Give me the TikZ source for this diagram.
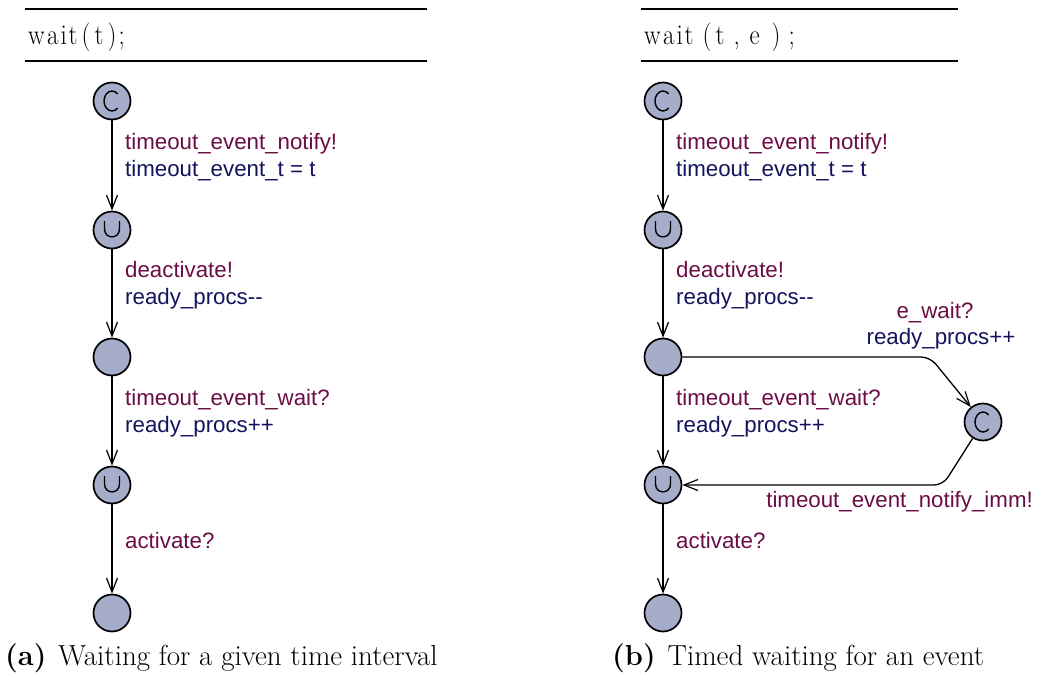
\documentclass[tikz,border=0pt]{standalone}
\usepackage{fontspec}
\newfontfamily\labfont{Liberation Sans}
\usetikzlibrary{arrows.meta}
\definecolor{locfill}{HTML}{A6ADCB}
\definecolor{synccol}{HTML}{6B0D45}
\definecolor{updcol}{HTML}{14145E}
\newcommand{\ch}[2]{\rlap{#1}\hspace{#2pt}}
\begin{document}
\begin{tikzpicture}[x=1pt,y=-1pt,
  loc/.style={circle,draw=black,line width=1.7pt,fill=locfill,minimum size=37pt,inner sep=0pt},
  edge/.style={line width=1.3pt,-{Straight Barb[length=14pt,width=11pt,line width=1.2pt]}},
  sync/.style={font=\labfont\fontsize{22.3}{26}\selectfont,text=synccol,inner sep=0pt},
  upd/.style={font=\labfont\fontsize{22.3}{26}\selectfont,text=updcol,inner sep=0pt},
  hdr/.style={font=\fontsize{25}{29}\selectfont,inner sep=0pt,anchor=base west},
  hrule/.style={line width=1.1pt},
  captext/.style={font=\fontsize{29}{33}\selectfont,inner sep=0pt,anchor=base west},
  usym/.style={line width=1.4pt}
]
\useasboundingbox (0,0) rectangle (1037,677);
% ---------- left ----------
\draw[hrule] (25,9) -- (427,9);
\draw[hrule] (25,61) -- (427,61);
\node[hdr] (hl) at (28,45) {\scalebox{1}[1.15]{\ch{w}{19}\ch{a}{13.5}\ch{i}{8}\ch{t}{13}\ch{(}{13}\ch{t}{13}\ch{)}{11}\ch{;}{7}}};
\node[loc] (l1) at (112,101) {};
\node[loc] (l2) at (112,230) {};
\node[loc] (l3) at (112,357) {};
\node[loc] (l4) at (112,485) {};
\node[loc] (l5) at (112,613) {};
\draw[usym] ([shift={(45:8 and 10)}]l1.center) arc[start angle=45,end angle=315,x radius=8,y radius=10];
\draw[usym] (104.5,221) -- (104.5,229) .. controls (104.5,239.5) and (119.5,239.5) .. (119.5,229) -- (119.5,221);
\draw[usym] (104.5,476) -- (104.5,484) .. controls (104.5,494.5) and (119.5,494.5) .. (119.5,484) -- (119.5,476);
\draw[edge] (l1) -- (l2);
\draw[edge] (l2) -- (l3);
\draw[edge] (l3) -- (l4);
\draw[edge] (l4) -- (l5);
\node[sync,anchor=base west] (la1) at (125,149) {timeout\_event\_notify!};
\node[upd,anchor=base west] (la2) at (125,176) {timeout\_event\_t = t};
\node[sync,anchor=base west] (la3) at (125,277) {deactivate!};
\node[upd,anchor=base west] (la4) at (125,304) {ready\_procs--};
\node[sync,anchor=base west] (la5) at (125,405) {timeout\_event\_wait?};
\node[upd,anchor=base west] (la6) at (125,432) {ready\_procs++};
\node[sync,anchor=base west] (la7) at (125,548) {activate?};
\node[captext] (capa) at (5,665) {\textbf{(a)}\hspace{12pt}Waiting for a given time interval};
% ---------- right ----------
\draw[hrule] (641,9) -- (958,9);
\draw[hrule] (641,61) -- (958,61);
\node[hdr] (hr) at (644,45) {\scalebox{1}[1.15]{\ch{w}{19}\ch{a}{13.5}\ch{i}{8}\ch{t}{18}\ch{(}{13}\ch{t}{18}\ch{,}{16}\ch{e}{22}\ch{)}{17}\ch{;}{7}}};
\node[loc] (r1) at (663,101) {};
\node[loc] (r2) at (663,230) {};
\node[loc] (r3) at (663,357) {};
\node[loc] (r4) at (663,485) {};
\node[loc] (r5) at (663,613) {};
\node[loc] (rc) at (983,422) {};
\draw[usym] ([shift={(45:8 and 10)}]r1.center) arc[start angle=45,end angle=315,x radius=8,y radius=10];
\draw[usym] ([shift={(45:8 and 10)}]rc.center) arc[start angle=45,end angle=315,x radius=8,y radius=10];
\draw[usym] (655.5,221) -- (655.5,229) .. controls (655.5,239.5) and (670.5,239.5) .. (670.5,229) -- (670.5,221);
\draw[usym] (655.5,476) -- (655.5,484) .. controls (655.5,494.5) and (670.5,494.5) .. (670.5,484) -- (670.5,476);
\coordinate (k1) at (930,357);
\coordinate (k2) at (943,485);
\draw[edge] (r1) -- (r2);
\draw[edge] (r2) -- (r3);
\draw[edge] (r3) -- (r4);
\draw[edge] (r4) -- (r5);
\draw[edge,rounded corners=9pt] (r3.east) -- (k1) -- (rc);
\draw[edge,rounded corners=9pt] (rc) -- (k2) -- (r4.east);
\node[sync,anchor=base west] (ra1) at (676,149) {timeout\_event\_notify!};
\node[upd,anchor=base west] (ra2) at (676,176) {timeout\_event\_t = t};
\node[sync,anchor=base west] (ra3) at (676,277) {deactivate!};
\node[upd,anchor=base west] (ra4) at (676,304) {ready\_procs--};
\node[sync,anchor=base west] (ra5) at (676,405) {timeout\_event\_wait?};
\node[upd,anchor=base west] (ra6) at (676,432) {ready\_procs++};
\node[sync,anchor=base west] (ra7) at (676,548) {activate?};
\node[sync,anchor=base] (rb1) at (935,318) {e\_wait?};
\node[upd,anchor=base] (rb2) at (941,344) {ready\_procs++};
\node[sync,anchor=base east] (rb3) at (1033,507) {timeout\_event\_notify\_imm!};
\node[captext] (capb) at (612,665) {\textbf{(b)}\hspace{12pt}Timed waiting for an event};
\end{tikzpicture}
\end{document}
